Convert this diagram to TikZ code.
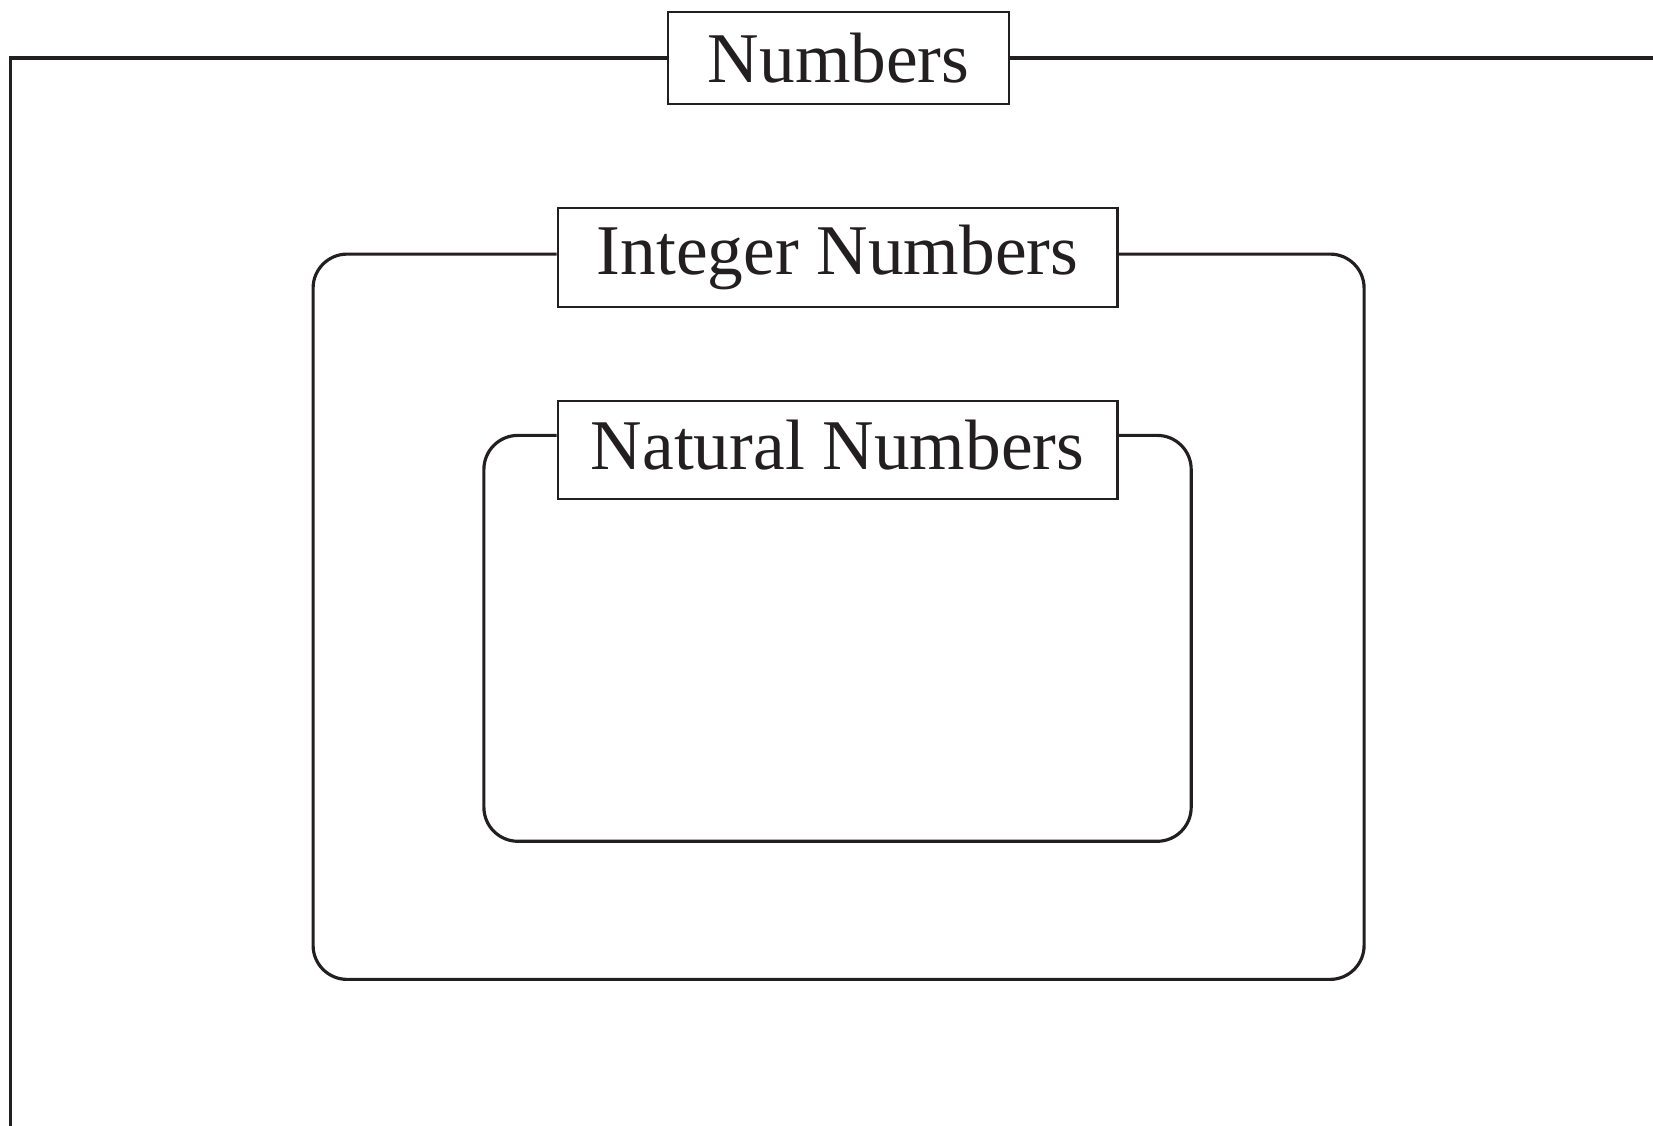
\documentclass[tikz,border=0pt]{standalone}
\usepackage{fontspec}
\setmainfont{Liberation Serif}
\usepackage{tikz}
\definecolor{ink}{HTML}{231F20}

\begin{document}
\begin{tikzpicture}[
  every node/.style={font=\fontsize{20.3pt}{24pt}\selectfont, text=ink},
  title/.style={draw=ink, line width=0.6pt, fill=white, inner sep=0pt,
    minimum width=5.597cm, minimum height=0.99cm},
  frame/.style={draw=ink, line width=0.9pt},
  set/.style={frame, rounded corners=0.34cm}]
 \useasboundingbox (0,0) rectangle (16.53,-11.26);
 \node[title, minimum width=3.405cm, minimum height=0.918cm] (num) at (8.386,-0.58) {Numbers};
 \node[title] (int) at (8.376,-2.572) {Integer Numbers};
 \node[title, minimum height=0.98cm, text depth=0.1cm] (nat) at (8.376,-4.496) {Natural Numbers};
 % outer set, runs off the page
 \draw[frame] (0.105,-11.26) -- (0.105,-0.58) -- (num.west);
 \draw[frame] (num.east) -- (16.53,-0.58);
 % integers
 \draw[set] ([yshift=0.031cm]int.west) -| (3.131,-9.794) -| (13.641,-2.541) -- ([yshift=0.031cm]int.east);
 % naturals
 \draw[set] ([yshift=0.142cm]nat.west) -| (4.839,-8.413) -| (11.912,-4.354) -- ([yshift=0.142cm]nat.east);
\end{tikzpicture}
\end{document}
